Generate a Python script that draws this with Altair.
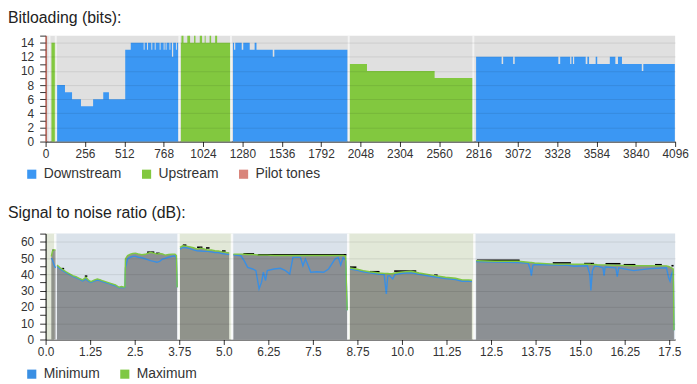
import altair as alt
import pandas as pd

FONT = "Liberation Sans"

# ---------------- Bitloading (tones 0..4096) ----------------
BAND_DIR = ["Pilot tones", "Upstream", "Downstream", "Upstream", "Downstream", "Upstream", "Downstream"]
BAND_EDGES = [
    [0, 7],
    [38, 64],
    [75, 126, 172, 230, 309, 375, 412, 518, 554, 638, 644, 660, 666, 688, 694, 710, 716, 742, 748,
     768, 774, 781, 787, 806, 812, 822, 830, 848, 854, 863],
    [880, 884, 897, 922, 940, 966, 975, 1003, 1018, 1035, 1041, 1067, 1077, 1103, 1116, 1202],
    [1219, 1226, 1234, 1276, 1286, 1328, 1360, 1372, 1478, 1488, 1964],
    [1979, 2091, 2531, 2778],
    [2801, 2967, 2977, 3042, 3052, 3336, 3348, 3413, 3421, 3431, 3439, 3514, 3525, 3536, 3579, 3589,
     3671, 3707, 3724, 3750, 3879, 3889, 4094],
]
BAND_BITS = [
    [15],
    [14],
    [8, 7, 6, 5, 6, 7, 6, 13, 14, 13, 14, 13, 14, 13, 14, 13, 14, 13, 14, 13, 14, 13, 14, 13, 14, 12, 14, 13, 14],
    [14, 15, 14, 15, 14, 15, 14, 15, 14, 15, 14, 15, 14, 15, 14],
    [14, 13, 14, 13, 14, 13, 14, 13, 12, 13],
    [11, 10, 9],
    [12, 11, 12, 11, 12, 11, 12, 11, 12, 11, 12, 11, 12, 11, 12, 11, 12, 11, 12, 11, 10, 11],
]
TONE_SEPARATORS = [25, 66, 870, 1206, 1972, 2783]
TONE_TICKS = [0, 256, 512, 768, 1024, 1280, 1536, 1792, 2048, 2304, 2560, 2816, 3072, 3328, 3584, 3840, 4096]
BIT_TICKS = list(range(0, 16))

DIR_DOMAIN = ["Downstream", "Upstream", "Pilot tones"]
DIR_COLORS = ["#3b97f3", "#82c83f", "#d9857b"]

# ---------------- SNR (MHz) ----------------
SNR_MHZ = [
    [0.16, 0.19, 0.22, 0.25, 0.28],
    [0.32, 0.40, 0.48, 0.575, 0.66, 0.76, 0.85, 0.944, 1.04, 1.13, 1.20, 1.27, 1.36, 1.45, 1.52, 1.59, 1.68,
     1.78, 1.87, 1.96, 2.06, 2.13, 2.20, 2.225, 2.24, 2.30, 2.38, 2.45, 2.52, 2.60, 2.70, 2.80, 2.94, 3.03,
     3.12, 3.20, 3.28, 3.35, 3.45, 3.55, 3.63, 3.67, 3.69],
    [3.77, 3.85, 3.95, 4.05, 4.15, 4.25, 4.35, 4.45, 4.55, 4.65, 4.75, 4.85, 4.95, 5.05, 5.15],
    [5.27, 5.48, 5.57, 5.67, 5.81, 5.90, 5.99, 6.06, 6.11, 6.17, 6.22, 6.41, 6.59, 6.73, 6.85, 6.94, 7.15,
     7.22, 7.29, 7.35, 7.44, 7.61, 7.80, 7.94, 8.12, 8.21, 8.28, 8.35, 8.42, 8.46],
    [8.54, 8.72, 8.91, 9.09, 9.37, 9.50, 9.56, 9.60, 9.65, 9.74, 9.80, 10.02, 10.25, 10.48, 10.76, 10.93,
     11.22, 11.50, 11.69, 11.87, 11.96],
    [12.08, 12.61, 13.26, 13.54, 13.60, 13.63, 13.67, 13.72, 14.28, 14.65, 14.83, 15.20, 15.27, 15.30, 15.34,
     15.40, 15.48, 15.64, 15.67, 15.70, 16.00, 16.04, 16.08, 16.50, 16.96, 17.42, 17.48, 17.52, 17.56, 17.61,
     17.63],
]
SNR_MAX = [
    [51, 54, 55, 55, 55],
    [45.7, 44.2, 42.9, 41.6, 40.5, 39.2, 38.6, 37.6, 36.6, 38.2, 36.5, 35.5, 36.5, 37.2, 36.8, 36.2, 35.5,
     34.8, 34.2, 33.5, 32.1, 32.5, 32.1, 32.5, 49.5, 51.5, 52.4, 52.8, 53.0, 52.5, 52.0, 52.3, 53.5, 53.0,
     52.4, 52.8, 52.5, 51.8, 52.2, 52.4, 52.4, 51.5, 32],
    [56.5, 57.5, 57.3, 56.9, 56.3, 55.5, 56.1, 55.6, 54.9, 55.0, 54.5, 54.3, 53.8, 53.5, 53.2],
    [52.4, 52.4, 52.3, 52.2, 52.2, 52.0, 51.8, 51.8, 51.8, 51.8, 51.8, 51.6, 51.6, 51.6, 51.6, 51.6, 51.6,
     51.6, 51.6, 51.6, 51.6, 51.6, 51.6, 51.6, 51.6, 51.6, 51.6, 51.6, 51.2, 18],
    [43.9, 43.3, 42.3, 41.6, 40.8, 40.6, 40.5, 40.5, 40.4, 40.5, 40.8, 41.5, 41.9, 40.8, 39.8, 39.2,
     38.2, 37.6, 36.6, 36.6, 36.4],
    [48.4, 48.0, 48.0, 47.4, 47.3, 47.3, 47.2, 47.0, 46.3, 46.3, 46.2, 46.3, 46.2, 46.1, 46.0,
     46.0, 45.9, 45.8, 45.8, 45.8, 45.5, 45.5, 45.5, 45.3, 45.3, 45.2, 44.8, 44.5, 44.0, 43.3,
     5.7],
]
SNR_MIN = [
    [50, 49, 47, 45, 44],
    [45.0, 43.5, 42.3, 41.0, 40.0, 38.7, 38.0, 37.0, 36.0, 37.0, 35.8, 35.0, 35.8, 36.5, 36.2, 35.6, 35.0,
     34.3, 33.6, 33.0, 31.8, 32.0, 31.8, 32.0, 44.0, 49.5, 50.5, 51.0, 51.0, 50.5, 50.2, 49.5, 48.4, 48.0,
     47.4, 48.0, 49.4, 49.8, 50.5, 51.0, 51.4, 50.0, 32],
    [55.5, 56.5, 56.3, 55.8, 55.0, 54.5, 54.3, 54.1, 54.1, 53.8, 53.3, 53.3, 52.8, 52.4, 52.2],
    [52.0, 51.4, 48.4, 44.3, 43.3, 42.3, 31.1, 35.2, 41.3, 36.2, 42.3, 43.3, 43.7, 42.3, 40.2, 50.4, 50.4,
     45.3, 49.4, 46.3, 41.3, 41.6, 41.3, 43.3, 49.4, 50.4, 45.7, 50.4, 48.4, 18],
    [43.2, 42.6, 41.6, 41.0, 40.0, 39.8, 28.0, 39.0, 39.2, 37.2, 39.8, 40.7, 41.0, 40.0, 39.0, 38.4,
     37.4, 36.8, 35.8, 35.8, 35.5],
    [47.8, 47.5, 47.3, 46.8, 43.0, 39.2, 45.5, 46.0, 45.7, 45.5, 45.0, 45.3, 40.0, 30.1, 42.0,
     45.0, 45.0, 44.0, 39.2, 44.5, 44.0, 38.6, 44.0, 42.3, 43.5, 44.0, 38.0, 35.8, 40.0, 42.3,
     5.7],
]
PEAK_START = [0.19, 0.45, 1.10, 2.85, 3.10, 3.85, 4.25, 4.50, 4.95, 5.55, 5.95, 8.54, 9.09, 9.78, 10.90,
              12.10, 14.23, 15.11, 15.71, 16.22, 17.10, 17.56]
PEAK_END = [0.23, 0.52, 1.17, 3.05, 3.20, 3.95, 4.40, 4.60, 5.05, 5.85, 8.44, 8.72, 9.37, 10.40, 11.00,
            13.30, 14.74, 15.39, 16.13, 16.55, 17.29, 17.62]
PEAK_DB = [54.8, 43.5, 38.9, 53.6, 52.9, 57.9, 56.6, 56.2, 54.3, 52.6, 52.0, 44.4, 41.6, 42.0, 39.5,
           48.7, 47.0, 46.6, 46.5, 45.9, 45.9, 45.3]
BAND_BG_START = [0, 0.27, 3.73, 5.23, 8.49, 12.03]
BAND_BG_END = [0.27, 3.73, 5.23, 8.49, 12.03, 17.664]
BAND_BG_DIR = ["Upstream", "Downstream", "Upstream", "Downstream", "Upstream", "Downstream"]
BAND_BG_LO = [0, 0, 0, 0, 0, 0]
BAND_BG_HI = [65, 65, 65, 65, 65, 65]
MHZ_SEPARATORS = [0.27, 3.73, 5.23, 8.49, 12.03]
MHZ_TICKS = [0, 1.25, 2.5, 3.75, 5.0, 6.25, 7.5, 8.75, 10.0, 11.25, 12.5, 13.75, 15.0, 16.25, 17.5]
DB_TICKS = list(range(0, 70, 5))
SERIES = ["Minimum", "Maximum"]
SERIES_COLORS = ["#3a8fe3", "#7fc843"]

# ---------------- tables ----------------
rows = []
for b, (d, edges, bits) in enumerate(zip(BAND_DIR, BAND_EDGES, BAND_BITS)):
    for e, v in zip(edges[:-1], bits):
        rows.append({"tone": e, "bits": v, "band": b, "dir": d})
    rows.append({"tone": edges[-1], "bits": bits[-1], "band": b, "dir": d})
bits_df = pd.DataFrame(rows)
sep_top = pd.DataFrame({"tone": TONE_SEPARATORS})

snr_rows, snr_long = [], []
for b in range(len(SNR_MHZ)):
    for f, mx, mn in zip(SNR_MHZ[b], SNR_MAX[b], SNR_MIN[b]):
        snr_rows.append({"mhz": f, "max": mx, "min": mn, "band": b})
        snr_long.append({"mhz": f, "db": mn, "band": b, "series": "Minimum"})
        snr_long.append({"mhz": f, "db": mx, "band": b, "series": "Maximum"})
snr_df = pd.DataFrame(snr_rows)
snr_long_df = pd.DataFrame(snr_long)
peak_df = pd.DataFrame({"s": PEAK_START, "e": PEAK_END, "db": PEAK_DB})
bg_df = pd.DataFrame({"s": BAND_BG_START, "e": BAND_BG_END, "dir": BAND_BG_DIR, "lo": BAND_BG_LO, "hi": BAND_BG_HI})
sep_bot = pd.DataFrame({"mhz": MHZ_SEPARATORS})
key_df = pd.DataFrame({"series": SERIES, "mhz": [1.0, 1.0], "db": [30, 30]})


def title(text, offset):
    return alt.TitleParams(text=text, anchor="start", frame="bounds", fontSize=16, font=FONT,
                           fontWeight="normal", color="#222", offset=offset)


def legend(y):
    return alt.Legend(title=None, orient="none", legendX=-21, legendY=y, direction="horizontal",
                      symbolType="square", symbolSize=85, labelFontSize=14, labelFont=FONT,
                      labelColor="#333", columnPadding=18, labelOffset=5, padding=0,
                      symbolStrokeWidth=0, symbolOpacity=1)


# ---------------- top chart ----------------
x_top_axis = alt.Axis(values=TONE_TICKS, title=None, grid=False, labelFlush=False, tickSize=5,
                      labelPadding=2, format="d", labelOverlap=False)
x_top_scale = alt.Scale(domain=[0, 4096], nice=False)
y_top = alt.Y("bits:Q", stack=None, scale=alt.Scale(domain=[0, 15], nice=False),
              axis=alt.Axis(values=BIT_TICKS, title=None, tickSize=6, labelPadding=6, labelOverlap=False,
                            domainColor="#9b4336",
                            labelExpr="datum.value % 2 == 0 ? datum.label : ''",
                            gridOpacity={"condition": {"test": "datum.value % 2 == 1 || datum.value == 0", "value": 0},
                                         "value": 0.09},
                            gridColor="#000", zindex=1, minExtent=38, maxExtent=38))

areas_top = alt.Chart(bits_df).mark_area(interpolate="step-after").encode(
    x=alt.X("tone:Q", scale=x_top_scale, axis=x_top_axis), y=y_top,
    color=alt.Color("dir:N", scale=alt.Scale(domain=DIR_DOMAIN, range=DIR_COLORS), legend=legend(133)),
    detail="band:N",
)
seps_top = alt.Chart(sep_top).mark_rule(color="#ffffff", strokeWidth=2, opacity=0.6).encode(
    x=alt.X("tone:Q", scale=x_top_scale, axis=x_top_axis))
top = alt.layer(areas_top, seps_top).properties(
    width=636, height=107, title=title("Bitloading (bits):", 4),
    view=alt.ViewBackground(fill="#e0e0e0", stroke=None))

# ---------------- bottom chart ----------------
x_scale_bot = alt.Scale(domain=[0, 17.664], nice=False)
x_bot_axis = alt.Axis(values=MHZ_TICKS, title=None, grid=False, labelFlush=False, tickSize=5, labelPadding=2,
                      labelOverlap=False,
                      labelExpr="datum.value == floor(datum.value) ? format(datum.value, '.1f') : toString(datum.value)")
y_bot_axis = alt.Axis(values=DB_TICKS, title=None, tickSize=6, labelPadding=6, labelOverlap=False,
                      labelExpr="datum.value % 10 == 0 && datum.value <= 60 ? datum.label : ''",
                      gridOpacity={"condition": {"test": "datum.value % 10 != 0 || datum.value == 0 || datum.value > 60",
                                                 "value": 0}, "value": 0.09},
                      gridColor="#000", zindex=1, minExtent=38, maxExtent=38)
y_scale = alt.Scale(domain=[0, 65], nice=False)
color_bot = alt.Scale(domain=SERIES, range=SERIES_COLORS)


def xb(field):
    return alt.X(field, scale=x_scale_bot, axis=x_bot_axis)


def yb(field):
    return alt.Y(field, scale=y_scale, axis=y_bot_axis, stack=None)


bg = alt.Chart(bg_df).mark_rect().encode(
    x=xb("s:Q"), x2="e:Q",
    y=yb("lo:Q"), y2="hi:Q",
    fill=alt.Fill("dir:N", scale=alt.Scale(domain=["Downstream", "Upstream"], range=["#dae2ea", "#e2e8d8"]),
                  legend=None),
)
seps_bot = alt.Chart(sep_bot).mark_rule(color="#ffffff", strokeWidth=2.5, opacity=0.8).encode(x=xb("mhz:Q"))
area_bot = alt.Chart(snr_df).mark_area(color="#454545", opacity=0.52).encode(
    x=xb("mhz:Q"), y=yb("max:Q"), detail="band:N")
peaks = alt.Chart(peak_df).mark_rule(color="#000", strokeWidth=1.6).encode(
    x=xb("s:Q"), x2="e:Q", y=yb("db:Q"))
key = alt.Chart(key_df).mark_square(filled=True, size=0, opacity=1).encode(
    x=xb("mhz:Q"), y=yb("db:Q"),
    color=alt.Color("series:N", scale=color_bot, sort=SERIES, legend=legend(135)))
lines = alt.Chart(snr_long_df).mark_line(strokeWidth=1.4).encode(
    x=xb("mhz:Q"), y=yb("db:Q"),
    color=alt.Color("series:N", scale=color_bot, sort=SERIES, legend=None),
    detail="band:N",
    order=alt.Order("mhz:Q"),
)
bottom = alt.layer(bg, seps_bot, area_bot, peaks, key, lines).properties(
    width=636, height=107, title=title("Signal to noise ratio (dB):", 7))

chart = alt.vconcat(top, bottom, spacing=24).resolve_scale(color="independent", x="independent").properties(
    padding={"left": 0, "top": 0, "right": 0, "bottom": 0}, background="#ffffff"
).configure_view(stroke=None).configure_axis(
    labelFont=FONT, labelFontSize=12, labelColor="#333", tickColor="#333", domainColor="#000"
)

chart.save("out.html", embed_options={"renderer": "svg", "actions": False})
